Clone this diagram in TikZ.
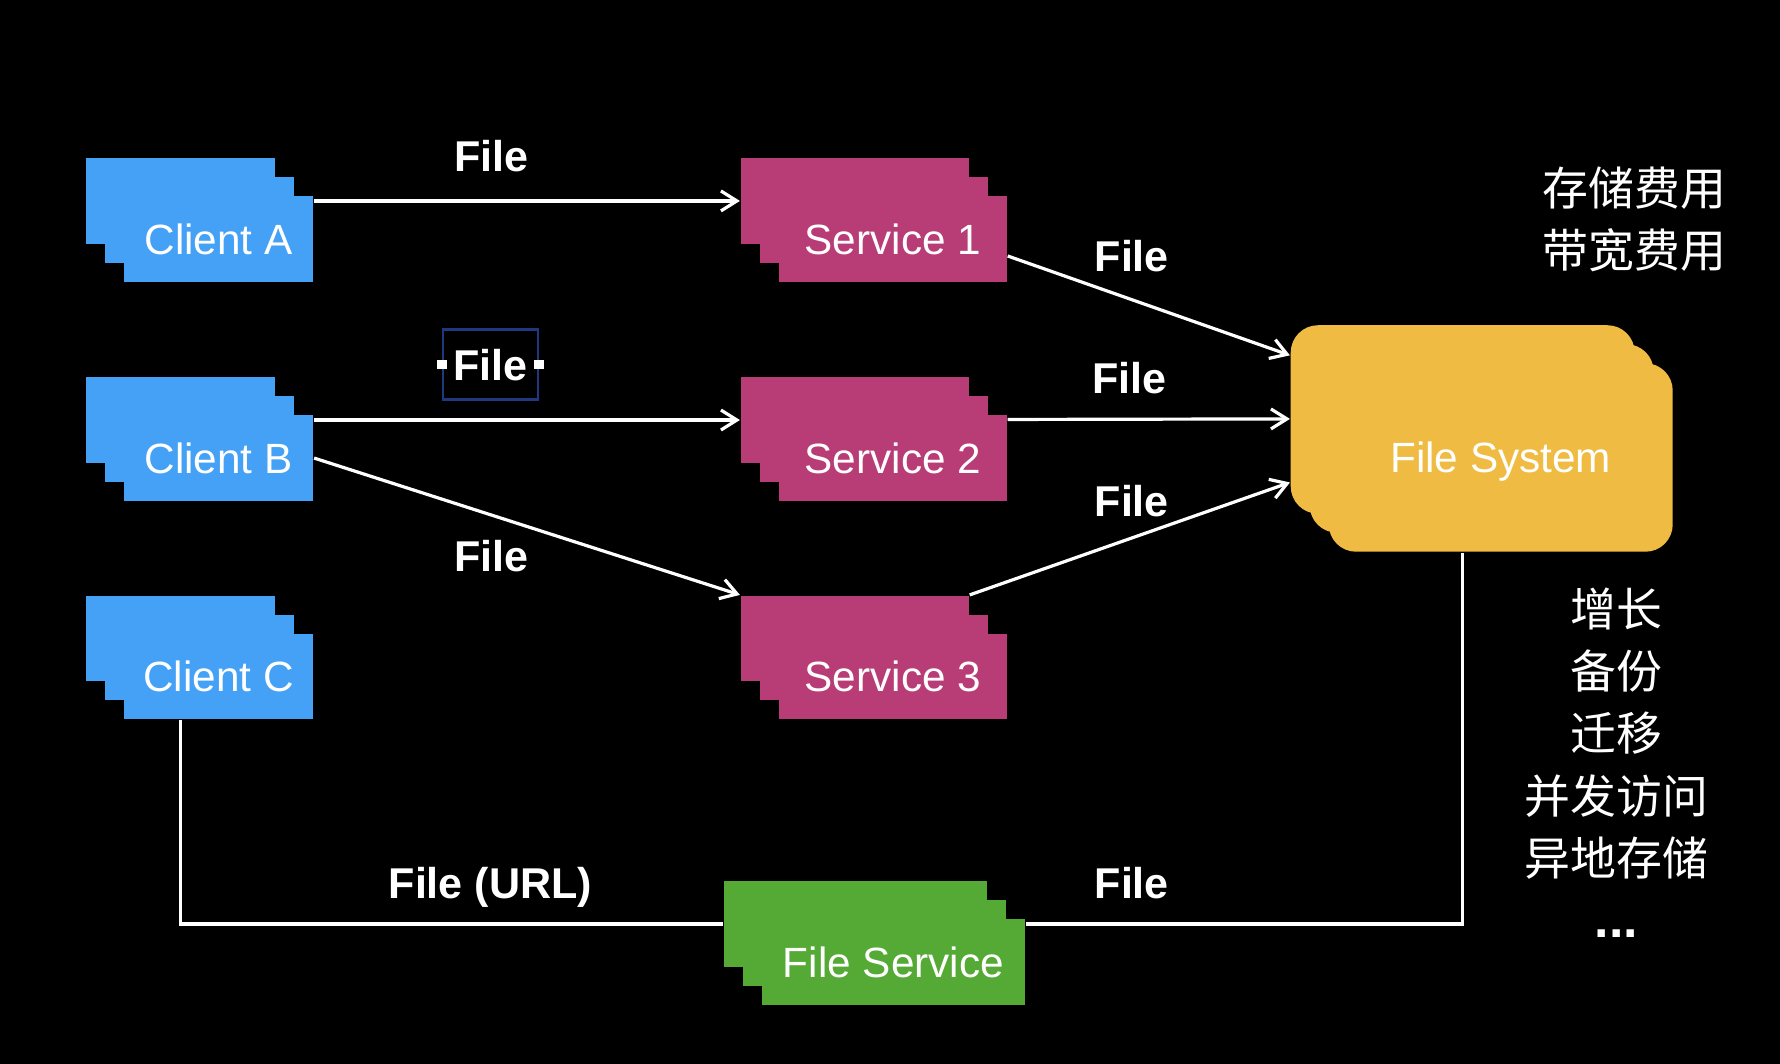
\documentclass[tikz,border=0pt]{standalone}
\usepackage{fontspec}
\setmainfont{Liberation Sans}
\newfontfamily\cjk{Noto Sans CJK SC}
\usetikzlibrary{shadows,arrows.meta}

\definecolor{clientblue}{RGB}{69,161,246}
\definecolor{servicepink}{RGB}{184,60,118}
\definecolor{storegreen}{RGB}{84,170,52}
\definecolor{fsyellow}{RGB}{239,187,66}
\definecolor{selectnavy}{RGB}{32,56,128}

\begin{document}
\begin{tikzpicture}[x=0.1mm, y=-0.1mm,
    stackbox/.style={fill=#1, text=white, inner sep=0pt, minimum height=0.755cm, text depth=0pt,
        font=\fontsize{10.6}{12}\selectfont,
        copy shadow={fill=#1, draw=none, shadow xshift=-0.335cm, shadow yshift=0.335cm},
        copy shadow={fill=#1, draw=none, shadow xshift=-0.168cm, shadow yshift=0.168cm}},
    flowlabel/.style={text=white, font=\fontsize{10.8}{13}\bfseries\selectfont, inner sep=1pt, text depth=0pt},
    cjklabel/.style={text=white, align=center, inner sep=0pt, font=\cjk\fontsize{11.5}{15.6}\selectfont},
    handle/.style={fill=white, inner sep=0pt, minimum size=0.085cm},
    flow/.style={white, line width=0.8pt, -{Straight Barb[length=4pt,width=5pt]}},
    link/.style={white, line width=0.8pt}]

    \fill[black] (0,0) rectangle (1568,937);
    \useasboundingbox (0,0) rectangle (1568,937);

    % clients
    \node[stackbox=clientblue, minimum width=1.67cm] (ca) at (192.5,210.5) {Client A};
    \node[stackbox=clientblue, minimum width=1.67cm] (cb) at (192.5,403.5) {Client B};
    \node[stackbox=clientblue, minimum width=1.67cm] (cc) at (192.5,596) {Client C};

    % services
    \node[stackbox=servicepink, minimum width=2.01cm] (s1) at (786.5,210.5) {Service 1};
    \node[stackbox=servicepink, minimum width=2.01cm] (s2) at (786.5,403.5) {Service 2};
    \node[stackbox=servicepink, minimum width=2.01cm] (s3) at (786.5,596) {Service 3};

    \node[stackbox=storegreen, minimum width=2.32cm] (fsv) at (787,847.5) {File Service};
    \node[stackbox=fsyellow, minimum width=3.03cm, minimum height=1.66cm, rounded corners=0.24cm] (fs) at (1322,403) {File System};

    \draw[flow] ([yshift=0.335cm]ca.east) -- ([shift={(-0.335cm,0.335cm)}]s1.west);
    \draw[flow] ([yshift=0.335cm]cb.east) -- ([shift={(-0.335cm,0.335cm)}]s2.west);
    \draw[flow] (cb.east) -- ([shift={(-0.335cm,0.335cm)}]s3.north west);

    \draw[flow] ([yshift=-0.15cm]s1.east) -- ([shift={(-0.335cm,0.9cm)}]fs.west);
    \draw[flow] ([yshift=0.34cm]s2.east) -- ([shift={(-0.335cm,0.34cm)}]fs.west);
    \draw[flow] ([shift={(-0.335cm,0.335cm)}]s3.north east) -- ([shift={(-0.335cm,-0.22cm)}]fs.west);

    \draw[link] ([xshift=-0.335cm]cc.south) |- ([shift={(-0.335cm,0.335cm)}]fsv.west);
    \draw[link] ([yshift=0.335cm]fsv.east) -| ([xshift=-0.34cm]fs.south);

    \node[flowlabel] (la) at (433,137) {File};
    \node[flowlabel, draw=selectnavy, line width=0.6pt, minimum width=0.837cm, minimum height=0.618cm] (lb) at (432,321) {File};
    \node[handle] (lbw) at (lb.west) {};
    \node[handle] (lbe) at (lb.east) {};
    \node[flowlabel] (lc) at (433,490) {File};
    \node[flowlabel] (ld) at (997,225) {File};
    \node[flowlabel] (le) at (995,333) {File};
    \node[flowlabel] (lf) at (997,441) {File};
    \node[flowlabel] (lg) at (997,778) {File};
    \node[flowlabel] (lurl) at (432,778) {File (URL)};

    \node[cjklabel] (cost) at (1440,193) {存储费用\\带宽费用};
    \node[cjklabel, anchor=north] (issues) at (1424,517) {增长\\备份\\迁移\\并发访问\\异地存储\\{\normalfont\bfseries\fontsize{13}{15.6}\selectfont ...}};
\end{tikzpicture}
\end{document}
